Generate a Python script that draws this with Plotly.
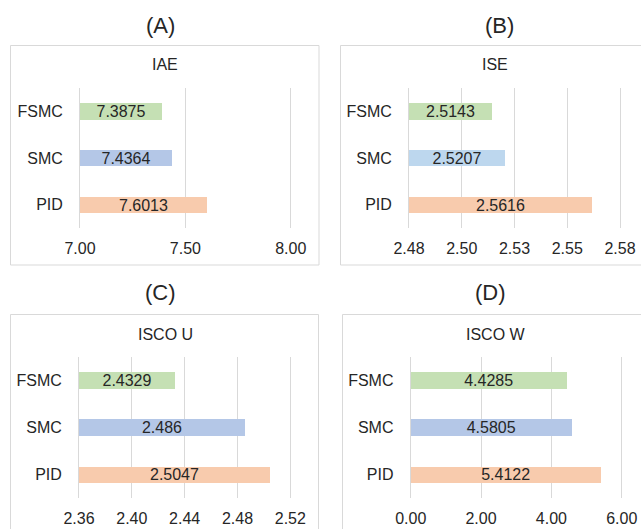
import plotly.graph_objects as go

# Controllers (bottom to top)
controllers = ["PID", "SMC", "FSMC"]

# Performance indices per controller, in the order of `controllers`
iae_values = [7.6013, 7.4364, 7.3875]
ise_values = [2.5616, 2.5207, 2.5143]
isco_u_values = [2.5047, 2.486, 2.4329]
isco_w_values = [5.4122, 4.5805, 4.4285]

# Axis ticks for each panel
iae_ticks = [7.00, 7.50, 8.00]
iae_ticktext = ["7.00", "7.50", "8.00"]
ise_ticks = [2.475, 2.500, 2.525, 2.550, 2.575]
ise_ticktext = ["2.48", "2.50", "2.53", "2.55", "2.58"]
isco_u_ticks = [2.36, 2.40, 2.44, 2.48, 2.52]
isco_u_ticktext = ["2.36", "2.40", "2.44", "2.48", "2.52"]
isco_w_ticks = [0.0, 2.0, 4.0, 6.0]
isco_w_ticktext = ["0.00", "2.00", "4.00", "6.00"]

panel_letters = ["(A)", "(B)", "(C)", "(D)"]
panel_titles = ["IAE", "ISE", "ISCO U", "ISCO W"]

W, H = 641, 529
FONT = "Liberation Sans, Arial, sans-serif"
TEXT = "#262626"
GRID = "#d9d9d9"


def px_x(p):
    return p / W


def px_y(p):
    return 1 - p / H


panels = [
    dict(values=iae_values, ticks=iae_ticks, ticktext=iae_ticktext,
         colors=["#f8cbad", "#b4c7e7", "#c5e0b4"],
         plot=(80, 290.7, 88, 228), box=(10.5, 319, 45.5, 265),
         letter_xy=(160, 25), title_xy=(165, 65)),
    dict(values=ise_values, ticks=ise_ticks, ticktext=ise_ticktext,
         colors=["#f8cbad", "#bdd7ee", "#c5e0b4"],
         plot=(409, 620, 88, 228), box=(340.5, 660, 45.5, 265),
         letter_xy=(499, 25), title_xy=(495, 65)),
    dict(values=isco_u_values, ticks=isco_u_ticks, ticktext=isco_u_ticktext,
         colors=["#f8cbad", "#b4c7e7", "#c5e0b4"],
         plot=(79, 290.3, 356.7, 498), box=(10.5, 318.5, 314.5, 560),
         letter_xy=(160, 292), title_xy=(165, 334)),
    dict(values=isco_w_values, ticks=isco_w_ticks, ticktext=isco_w_ticktext,
         colors=["#f8cbad", "#b4c7e7", "#c5e0b4"],
         plot=(410.7, 621.7, 356.7, 498), box=(342.5, 660, 314.5, 560),
         letter_xy=(490, 292), title_xy=(496, 334)),
]

fig = go.Figure()
layout = {}
shapes = []
annotations = []

for i, p in enumerate(panels, start=1):
    suffix = "" if i == 1 else str(i)
    lo, hi = p["ticks"][0], p["ticks"][-1]
    x0, x1, y0, y1 = p["plot"]
    # pad the axis by two pixels on the right so the last gridline is drawn
    pad_px = 2.0
    pad = (hi - lo) * pad_px / (x1 - x0)
    fig.add_trace(go.Bar(
        y=controllers,
        x=[v - lo for v in p["values"]],
        base=lo,
        orientation="h",
        width=0.35,
        marker=dict(color=p["colors"], line=dict(width=0)),
        text=[str(v) for v in p["values"]],
        textposition="inside",
        insidetextanchor="middle",
        constraintext="none",
        textfont=dict(family=FONT, size=16, color=TEXT),
        xaxis="x" + suffix,
        yaxis="y" + suffix,
        showlegend=False,
        hoverinfo="skip",
    ))
    layout["xaxis" + suffix] = dict(
        domain=[px_x(x0), px_x(x1 + pad_px)],
        anchor="y" + suffix,
        range=[lo, hi + pad],
        tickvals=p["ticks"],
        ticktext=p["ticktext"],
        showgrid=True, gridcolor=GRID, gridwidth=1,
        zeroline=False, showline=False,
        ticks="outside", ticklen=6, tickcolor="rgba(0,0,0,0)",
        tickfont=dict(family=FONT, size=16, color=TEXT),
        automargin=False,
        fixedrange=True,
    )
    layout["yaxis" + suffix] = dict(
        domain=[px_y(y1), px_y(y0)],
        anchor="x" + suffix,
        type="category",
        categoryorder="array",
        categoryarray=controllers,
        range=[-0.5, 2.5],
        showgrid=False, zeroline=False,
        showline=True, linecolor=GRID, linewidth=1,
        ticks="outside", ticklen=13, tickcolor="rgba(0,0,0,0)",
        tickfont=dict(family=FONT, size=16, color=TEXT),
        automargin=False,
        fixedrange=True,
    )
    bx0, bx1, by0, by1 = p["box"]
    shapes.append(dict(
        type="rect", xref="paper", yref="paper",
        x0=px_x(bx0), x1=px_x(bx1), y0=px_y(by1), y1=px_y(by0),
        line=dict(color=GRID, width=1), fillcolor="rgba(0,0,0,0)",
        layer="below",
    ))
    lx, ly = p["letter_xy"]
    annotations.append(dict(
        text=panel_letters[i - 1], xref="paper", yref="paper",
        x=px_x(lx), y=px_y(ly), xanchor="center", yanchor="middle",
        showarrow=False, font=dict(family=FONT, size=22, color=TEXT),
    ))
    tx, ty = p["title_xy"]
    annotations.append(dict(
        text=panel_titles[i - 1], xref="paper", yref="paper",
        x=px_x(tx), y=px_y(ty), xanchor="center", yanchor="middle",
        showarrow=False, font=dict(family=FONT, size=16, color=TEXT),
    ))

fig.update_layout(
    width=W, height=H,
    margin=dict(l=0, r=0, t=0, b=0),
    paper_bgcolor="white",
    plot_bgcolor="white",
    bargap=0,
    shapes=shapes,
    annotations=annotations,
    font=dict(family=FONT, size=16, color=TEXT),
    **layout,
)

fig.write_html("out.html")
